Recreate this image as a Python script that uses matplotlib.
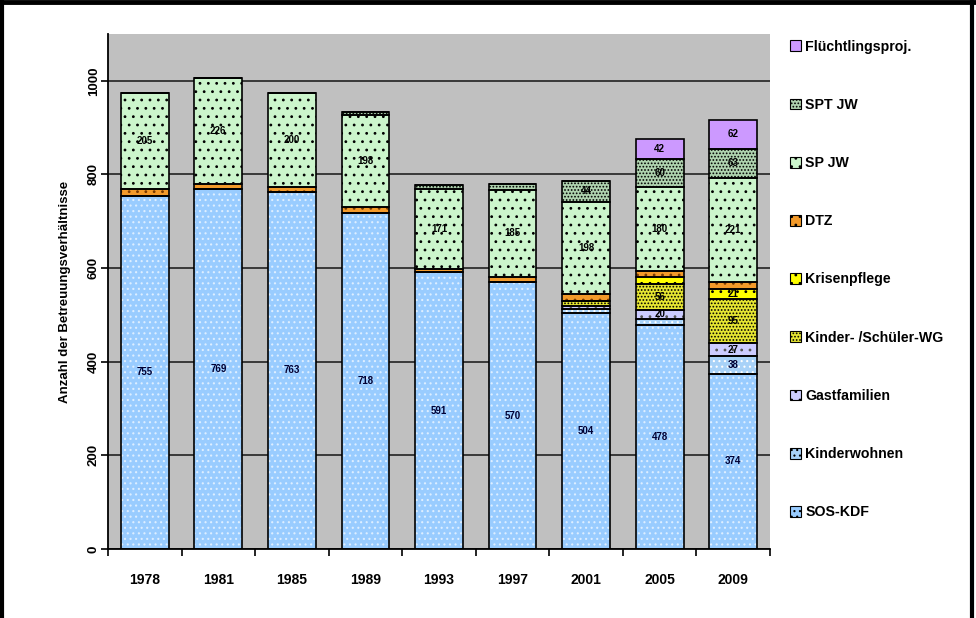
import matplotlib
matplotlib.use("Agg")
import matplotlib.pyplot as plt
from matplotlib.patches import Patch
from matplotlib.lines import Line2D
import numpy as np

plt.rcParams['font.family'] = ['Liberation Sans', 'DejaVu Sans']
plt.rcParams['hatch.linewidth'] = 0.8

years = ["1978", "1981", "1985", "1989", "1993", "1997", "2001", "2005", "2009"]

# stacked series, bottom to top
sos_kdf        = [755, 769, 763, 718, 591, 570, 504, 478, 374]
kinderwohnen   = [0, 0, 0, 0, 0, 0, 8, 13, 38]
gastfamilien   = [0, 0, 0, 0, 0, 0, 6, 20, 27]
kinder_wg      = [0, 0, 0, 0, 0, 0, 12, 56, 95]
krisenpflege   = [0, 0, 0, 0, 0, 0, 0, 15, 21]
dtz            = [13, 10, 10, 12, 8, 12, 14, 12, 16]
sp_jw          = [205, 226, 200, 198, 171, 185, 198, 180, 221]
spt_jw         = [2, 0, 0, 5, 7, 12, 44, 60, 63]
fluechtling    = [0, 0, 0, 0, 0, 0, 0, 42, 62]

series_names = ["SOS-KDF", "Kinderwohnen", "Gastfamilien", "Kinder- /Schüler-WG",
                "Krisenpflege", "DTZ", "SP JW", "SPT JW", "Flüchtlingsproj."]
series_vals = [sos_kdf, kinderwohnen, gastfamilien, kinder_wg, krisenpflege,
               dtz, sp_jw, spt_jw, fluechtling]
face_colors = ["#99CCFF", "#A8D2F8", "#CCCCFF", "#E6E632", "#FFFF00",
               "#F39A2A", "#CCF5CC", "#AFD3AF", "#CC99FF"]
hatches = ["...", "...", "..", ".....", "..", "..", "..", ".....", None]
hatch_cols = ["#DDEEFF", "white", "#555555", "black", "black", "#7a3a00",
              "black", "black", "black"]
label_cols = ["#000033", "#000033", "black", "black", "black", "black",
              "black", "black", "black"]

fig = plt.figure(figsize=(9.76, 6.18), dpi=100)
ax = fig.add_axes([108/976, 1-549/618, (770-108)/976, (549-34)/618])
ax.set_facecolor("#C0C0C0")

x = np.arange(len(years))
width = 0.65
bottom = np.zeros(len(years))
for vals, fc, h, hc, lc in zip(series_vals, face_colors, hatches, hatch_cols, label_cols):
    v = np.array(vals, dtype=float)
    ax.bar(x, v, width, bottom=bottom, color=fc, hatch=h, edgecolor=hc,
           linewidth=0, zorder=3)
    ax.bar(x, v, width, bottom=bottom, fill=False, edgecolor="black",
           linewidth=1.2, zorder=4)
    for xi, vi, bi in zip(x, v, bottom):
        if vi >= 20:
            ax.text(xi, bi + vi/2, f"{int(vi)}", ha="center", va="center",
                    fontsize=7, fontweight="bold", color=lc, zorder=5)
    bottom += v

ax.set_xlim(-0.5, len(years) - 0.5)
ax.set_ylim(0, 1100)
ax.set_yticks([0, 200, 400, 600, 800, 1000])
ax.set_yticklabels(["0", "200", "400", "600", "800", "1000"], rotation=90,
                   va="center", fontweight="bold", fontsize=9.5)
ax.yaxis.grid(True, color="#222222", linewidth=1.2, zorder=1)
ax.set_axisbelow(True)
ax.set_xticks(x)
ax.set_xticklabels(years, fontweight="bold", fontsize=10)
ax.set_xticks(np.arange(-0.5, len(years)), minor=True)
ax.tick_params(axis="x", which="major", length=0, pad=17)
ax.tick_params(axis="x", which="minor", length=5, width=1.2, direction="out")
ax.tick_params(axis="y", length=5, width=1.2, direction="out", pad=1)
for s in ["top", "right"]:
    ax.spines[s].set_visible(False)
for s in ["left", "bottom"]:
    ax.spines[s].set_linewidth(1.3)
    ax.spines[s].set_zorder(6)

ax.set_ylabel("Anzahl der Betreuungsverhältnisse", fontweight="bold",
              fontsize=9.5, labelpad=12)

handles = [Patch(facecolor=fc, hatch=h, edgecolor="black", linewidth=0.8)
           for fc, h in zip(face_colors, hatches)]
leg = fig.legend(handles[::-1], series_names[::-1], loc="upper left",
                 bbox_to_anchor=(784/976, 1-34/618), frameon=False,
                 prop={"weight": "bold", "size": 10.2},
                 handlelength=0.8, handleheight=0.8, handletextpad=0.3,
                 labelspacing=3.12, borderaxespad=0)

# black frame around the picture (top, left, right)
fig.add_artist(Line2D([0.002, 0.002], [0, 0.998], color="black", lw=3,
                      transform=fig.transFigure))
fig.add_artist(Line2D([0, 1], [0.996, 0.996], color="black", lw=3.5,
                      transform=fig.transFigure))
fig.add_artist(Line2D([0.996, 0.996], [0, 1], color="black", lw=3,
                      transform=fig.transFigure))

fig.savefig("out.png", dpi=100)
